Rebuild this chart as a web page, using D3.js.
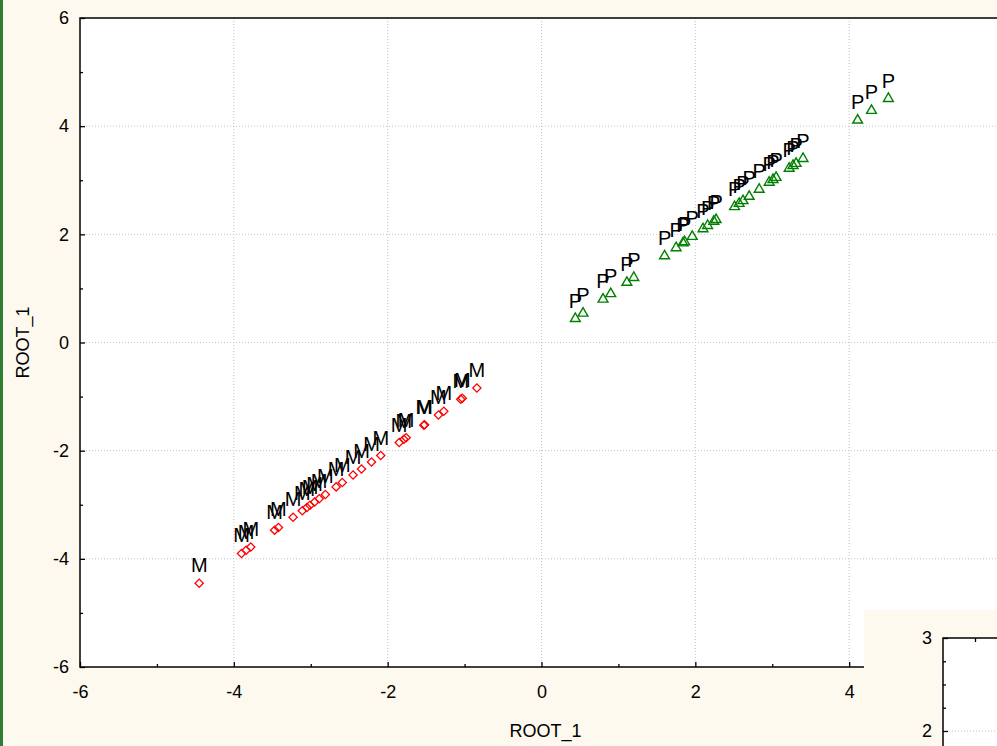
<!DOCTYPE html>
<html>
<head>
<meta charset="utf-8">
<script src="https://cdn.jsdelivr.net/npm/d3@7"></script>
<style>
  body { margin: 0; background: #fdf9ee; overflow: hidden; }
  text { font-family: "Liberation Sans", Arial, sans-serif; }
</style>
</head>
<body>
<div id="chart"></div>
<script>
// ROOT_1 scores per group (plotted against itself)
const mRoot = [-4.45, -3.90, -3.84, -3.78, -3.47, -3.42, -3.23, -3.11, -3.05, -3.01,
  -2.95, -2.89, -2.81, -2.67, -2.59, -2.45, -2.34, -2.21, -2.09, -1.85,
  -1.79, -1.76, -1.53, -1.52, -1.34, -1.27, -1.05, -1.03, -0.84];
const pRoot = [0.44, 0.54, 0.80, 0.90, 1.11, 1.20, 1.60, 1.75, 1.84, 1.86,
  1.96, 2.10, 2.16, 2.24, 2.27, 2.51, 2.57, 2.62, 2.70, 2.83,
  2.96, 3.01, 3.05, 3.22, 3.27, 3.31, 3.40, 4.11, 4.29, 4.51];
const majorTicks = [-6, -4, -2, 0, 2, 4, 6];
const minorTicks = [-5, -3, -1, 1, 3, 5];
const insetTicks = [2, 3];
const insetMinor = [2.25, 2.5, 2.75];

const W = 997, H = 746;
const margin = { top: 18, left: 80 },
  width = 923,
  height = 649;

const fmt = d => String(d); // plain hyphen minus, no decimals

const root = d3.select("#chart").append("svg")
  .attr("width", W)
  .attr("height", H);

// green strip on the left edge
root.append("rect").attr("x", 0).attr("y", 0).attr("width", 3).attr("height", H).attr("fill", "#2f7d32");

const svg = root.append("g")
  .attr("transform", `translate(${margin.left},${margin.top})`);

const x = d3.scaleLinear().domain([-6, 6]).range([0, width]);
const y = d3.scaleLinear().domain([-6, 6]).range([height, 0]);

svg.append("rect").attr("width", width).attr("height", height).attr("fill", "#fff");

// dotted grid
const inner = majorTicks.filter(d => d > -6 && d < 6);
svg.selectAll(".vgrid").data(inner).enter().append("line")
  .attr("x1", d => x(d)).attr("x2", d => x(d))
  .attr("y1", 0).attr("y2", height)
  .attr("stroke", "#c4c4c4").attr("stroke-dasharray", "1,2");
svg.selectAll(".hgrid").data(inner).enter().append("line")
  .attr("y1", d => y(d)).attr("y2", d => y(d))
  .attr("x1", 0).attr("x2", width)
  .attr("stroke", "#c4c4c4").attr("stroke-dasharray", "1,2");

// axes (ticks point inward)
const xAxis = svg.append("g").attr("transform", `translate(0,${height})`)
  .call(d3.axisBottom(x).tickValues(majorTicks).tickFormat(fmt).tickSizeInner(-5).tickSizeOuter(0).tickPadding(18));
const xMinor = svg.append("g").attr("transform", `translate(0,${height})`)
  .call(d3.axisBottom(x).tickValues(minorTicks).tickSizeInner(-3).tickSizeOuter(0).tickFormat(""));
const yAxis = svg.append("g")
  .call(d3.axisLeft(y).tickValues(majorTicks).tickFormat(fmt).tickSizeInner(-5).tickSizeOuter(0).tickPadding(11));
const yMinor = svg.append("g")
  .call(d3.axisLeft(y).tickValues(minorTicks).tickSizeInner(-3).tickSizeOuter(0).tickFormat(""));

[xAxis, xMinor, yAxis, yMinor].forEach(a => {
  a.select(".domain").remove();
  a.selectAll("line").attr("stroke", "#000").attr("stroke-width", 1.3);
  a.selectAll("text").style("font-size", "18px").attr("fill", "#000");
});

// frame
svg.append("rect").attr("width", width).attr("height", height)
  .attr("fill", "none").attr("stroke", "#000").attr("stroke-width", 1.5);

// axis titles
svg.append("text").attr("x", x(0) + 4).attr("y", height + 70)
  .attr("text-anchor", "middle").style("font-size", "18px").text("ROOT_1");
svg.append("text").attr("transform", `translate(${-51},${y(0)}) rotate(-90)`)
  .attr("text-anchor", "middle").style("font-size", "18px").text("ROOT_1");

// markers
const diamond = d3.symbol().type(d3.symbolSquare).size(34);
const triangle = d3.symbol().type(d3.symbolTriangle).size(42);

svg.selectAll(".m").data(mRoot).enter().append("path")
  .attr("d", diamond)
  .attr("transform", d => `translate(${x(d)},${y(d)}) rotate(45)`)
  .attr("fill", "none").attr("stroke", "#ff0000").attr("stroke-width", 1.3);

svg.selectAll(".p").data(pRoot).enter().append("path")
  .attr("d", triangle)
  .attr("transform", d => `translate(${x(d)},${y(d)})`)
  .attr("fill", "none").attr("stroke", "#008000").attr("stroke-width", 1.4);

// point labels
svg.selectAll(".ml").data(mRoot).enter().append("text")
  .attr("x", d => x(d)).attr("y", d => y(d) - 11)
  .attr("text-anchor", "middle").attr("fill", "#000").style("font-size", "20px").text("M");
svg.selectAll(".pl").data(pRoot).enter().append("text")
  .attr("x", d => x(d)).attr("y", d => y(d) - 11)
  .attr("text-anchor", "middle").attr("fill", "#000").style("font-size", "20px").text("P");

// second chart peeking in at bottom right
const inset = root.append("g");
inset.append("rect").attr("x", 864).attr("y", 610).attr("width", W - 864).attr("height", H - 610).attr("fill", "#fdf9ee");
const iy = d3.scaleLinear().domain([2, 3]).range([731, 638]);
const ix = d3.scaleLinear().domain([0, 1]).range([943, 1007]);
inset.append("rect").attr("x", 943).attr("y", 638).attr("width", W - 943).attr("height", H - 638).attr("fill", "#fff");
inset.append("line").attr("x1", 943).attr("x2", W).attr("y1", iy(2)).attr("y2", iy(2))
  .attr("stroke", "#c4c4c4").attr("stroke-dasharray", "1,2");
const iyAxis = inset.append("g").attr("transform", "translate(943,0)")
  .call(d3.axisLeft(iy).tickValues(insetTicks).tickFormat(fmt).tickSizeInner(-5).tickSizeOuter(0).tickPadding(11));
const iyMinor = inset.append("g").attr("transform", "translate(943,0)")
  .call(d3.axisLeft(iy).tickValues(insetMinor).tickSizeInner(-3).tickSizeOuter(0).tickFormat(""));
const ixAxis = inset.append("g").attr("transform", "translate(0,638)")
  .call(d3.axisTop(ix).tickValues([0.5]).tickSizeInner(-4).tickSizeOuter(0).tickFormat(""));
[iyAxis, iyMinor, ixAxis].forEach(a => {
  a.select(".domain").remove();
  a.selectAll("line").attr("stroke", "#000").attr("stroke-width", 1.3);
  a.selectAll("text").style("font-size", "18px").attr("fill", "#000");
});
inset.append("path").attr("d", `M943,${H}V638H${W}`)
  .attr("fill", "none").attr("stroke", "#000").attr("stroke-width", 1.5);
</script>
</body>
</html>
